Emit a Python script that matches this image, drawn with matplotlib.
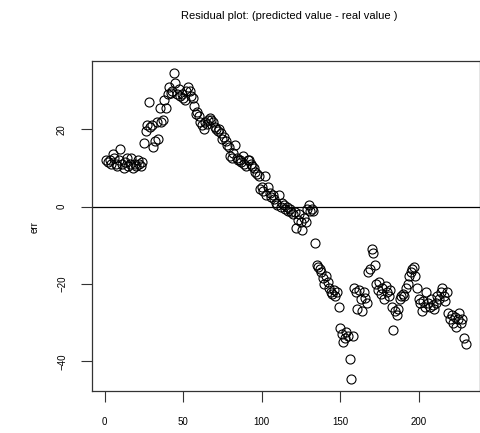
import numpy as np
import matplotlib
matplotlib.use("Agg")
from matplotlib import pyplot as plt

plt.rcParams['font.family'] = ['Liberation Sans', 'DejaVu Sans']

# residuos (predicted - real), em ordem
err = [
    12, 11.5, 12, 11, 13.5, 12.5, 11, 10.5, 12, 15, 11, 10, 11.5, 12.5, 10.5, 11, 12.5, 10, 11, 10.5, 12, 11, 10.5, 11.5,
    16.5, 19.5, 21, 27, 20.5, 21, 15.5, 17, 22, 17.5, 25.5, 22, 22.5, 27.5, 25.5,
    29, 31, 29.5, 30, 34.5, 32, 29, 30.5, 28.5, 29, 28, 27.5, 30, 31, 30, 28.5, 28, 26, 24, 24.5, 23.5,
    22, 21, 20, 22, 21.5, 22.5, 23, 22.5, 22, 20.5, 20, 19.5, 20, 19, 17.5, 18, 17, 16, 15.5, 13,
    12.5, 14, 16, 12.5, 12, 12, 11.5, 13, 11, 10.5, 12, 12, 11, 10.5, 10, 9, 8.5, 8, 4.5, 5,
    4, 8, 3, 5, 3.5, 2.5, 3, 2, 1, 0.5, 3, 0, 1, 0.5, -0.5, 0, -1, -0.5, -1.5, -2,
    -1.5, -5.5, -3.5, -2, -4, -6, -3, -4, -0.5, 0.5, -1, -0.5, -1,
    -9.5, -15, -15.5, -16, -17, -18.5, -20, -18, -19.5, -21, -22, -22.5, -21.5, -23, -22, -26,
    -31.5, -33, -35, -34, -32.5, -33.5, -39.5, -44.5, -33.5,
    -21, -22, -26.5, -21.5, -24, -27, -22, -23.5, -25, -17, -16,
    -11, -12, -15, -20, -21.5, -19.5, -22.5, -21, -24, -20.5, -22, -23, -21.5, -26, -32,
    -27, -28, -26.5, -24, -23, -22.5, -23, -21, -20, -18, -17, -16, -15.5, -18, -21, -24,
    -25, -27, -24.5, -26, -22, -25, -26, -24, -25.5, -26.5, -25, -23, -24, -22, -21, -23, -24.5, -22,
    -27.5, -29, -28, -30, -28.5, -31, -29, -27.5, -30, -29, -34, -35.5,
]
idx = np.arange(1, len(err) + 1)
x_ticks = [0, 50, 100, 150, 200]
y_ticks = [-40, -20, 0, 20]

fig = plt.figure(figsize=(4.81, 4.33), dpi=100)
ax = fig.add_axes([92 / 481, 1 - 391 / 433, 388 / 481, 330 / 433])

ax.plot(idx, err, 'o', mfc='none', mec='black', ms=6.5, mew=0.8)
ax.axhline(0, color='black', lw=0.9)

# limites estilo R (4% de folga)
xr = idx.max() - idx.min()
yr = max(err) - min(err)
ax.set_xlim(idx.min() - 0.04 * xr, idx.max() + 0.04 * xr)
ax.set_ylim(min(err) - 0.04 * yr, max(err) + 0.04 * yr)

ax.set_xticks(x_ticks)
ax.set_yticks(y_ticks)
ax.tick_params(direction='out', length=8, width=0.8, labelsize=7, color='#333333')
ax.tick_params(axis='x', pad=11)
ax.tick_params(axis='y', pad=10)
for lab in ax.get_yticklabels():
    lab.set_rotation(90)
    lab.set_va('center')
for s in ax.spines.values():
    s.set_linewidth(0.9)
    s.set_color('#333333')

fig.text(289 / 481, 1 - 16 / 433, 'Residual plot: (predicted value - real value )',
         ha='center', va='center', fontsize=8)
fig.text(35 / 481, 1 - 227 / 433, 'err', rotation=90, ha='center', va='center', fontsize=7)

fig.savefig('out.png', dpi=100)
